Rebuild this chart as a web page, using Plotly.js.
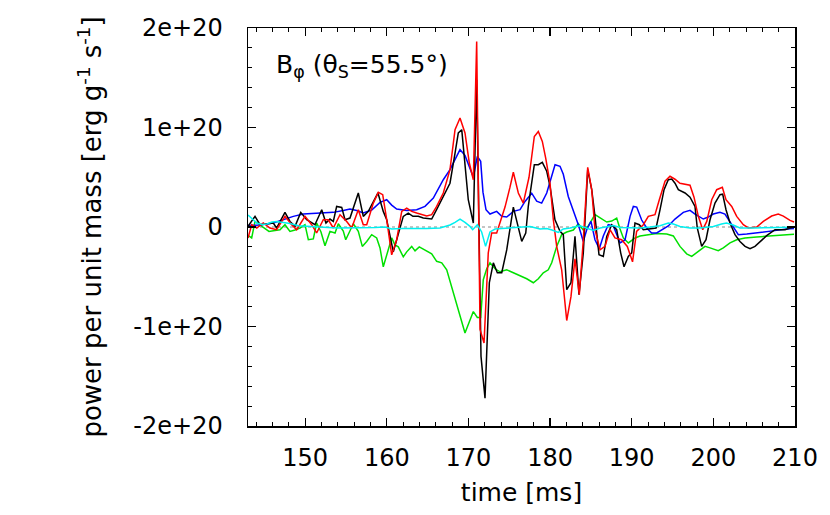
<!DOCTYPE html>
<html><head><meta charset="utf-8">
<script src="https://cdn.plot.ly/plotly-3.0.1.min.js"></script>
<style>html,body{margin:0;padding:0;background:#fff}</style>
</head><body><div id="chart" style="width:830px;height:515px"></div>
<script>
// values in units of 1e20 erg g^-1 s^-1
const UNIT = 1e20;
const timeBlack = [143.0,143.86,144.47,146.1,146.5,147.53,148.14,148.76,149.46,150.19,
 151.2,152.03,152.55,153.04,153.45,153.86,154.48,154.88,155.49,156.51,
 157.12,157.74,158.92,159.57,159.99,160.8,162.02,162.63,163.2,163.86,
 164.47,165.5,166.1,166.92,167.74,168.36,168.76,169.18,169.58,169.98,
 170.6,171.01,171.54,172.03,172.56,173.05,173.54,174.08,174.69,175.5,
 176.53,177.02,177.33,178.07,178.56,179.05,179.59,179.99,180.6,181.22,
 181.62,182.04,182.56,183.05,183.54,184.07,184.61,185.1,185.5,185.99,
 186.52,186.94,187.55,188.16,188.65,189.06,189.58,190.0,190.4,190.93,
 191.42,192.2,192.98,193.47,193.96,194.48,194.9,195.3,195.71,196.53,
 197.14,197.75,198.03,198.57,199.1,199.59,200.2,200.81,201.14,201.55,
 202.04,202.65,203.26,203.88,204.49,205.1,205.71,206.53,207.55,208.16,
 208.78,209.39,209.88];
const powerBlack = [0.006,0.107,0.023,0.04,-0.01,0.147,0.056,0.006,0.147,0.073,
 0.023,0.174,0.04,0.08,0.056,0.207,0.197,0.073,0.09,0.342,
 0.107,0.157,0.342,0.157,0.073,-0.25,0.107,0.14,0.107,0.107,
 0.09,0.08,0.174,0.307,0.44,0.743,0.945,0.978,0.609,0.274,
 0.04,1.48,-1.30,-1.72,-0.56,-0.36,-0.46,-0.46,-0.23,0.20,
 -0.145,-0.06,0.207,0.626,0.626,0.65,0.56,0.41,0.073,-0.044,
 -0.077,-0.63,-0.56,-0.094,-0.68,-0.26,0.576,0.375,0.107,-0.278,
 -0.295,-0.094,0.023,-0.027,-0.26,-0.40,-0.295,-0.26,0.04,0.023,
 -0.027,-0.02,-0.01,0.174,0.375,0.475,0.482,0.44,0.375,0.342,
 0.30,0.207,-0.01,-0.195,-0.128,0.073,0.24,0.325,0.33,0.174,
 0.04,-0.077,-0.145,-0.195,-0.218,-0.195,-0.145,-0.087,-0.027,-0.027,
 -0.027,-0.01,0.0];

const timeRed = [143.0,143.45,144.07,144.87,145.69,146.5,147.53,148.35,148.96,149.98,
 150.8,151.41,152.22,152.84,153.45,154.27,155.09,155.7,156.51,157.12,
 157.54,158.35,158.96,159.5,159.99,160.6,161.21,161.83,162.44,163.05,
 163.66,164.28,164.89,165.5,166.11,166.92,167.74,168.36,168.97,169.58,
 170.11,170.6,171.01,171.42,171.91,172.43,172.85,173.46,173.87,174.48,
 175.09,175.5,176.11,176.72,177.42,178.07,178.56,179.05,179.47,179.99,
 180.4,180.81,181.42,182.04,182.56,183.05,183.58,184.07,184.61,185.1,
 185.5,186.12,186.73,187.34,187.95,188.77,189.46,190.1,190.6,191.42,
 192.03,192.85,193.38,194.08,194.69,195.3,195.91,196.73,197.14,197.63,
 198.16,198.7,199.19,199.8,200.41,201.1,201.55,202.25,202.86,203.67,
 204.28,205.31,206.12,207.14,207.95,208.57,209.39,209.88];
const powerRed = [-0.11,0.023,-0.01,0.04,-0.01,-0.027,0.107,0.023,-0.027,0.107,
 0.023,-0.06,0.073,0.073,-0.01,0.124,0.056,-0.01,0.174,0.023,
 0.023,0.24,0.348,0.325,0.073,-0.28,-0.128,0.157,0.19,0.157,
 0.14,0.124,0.11,0.124,0.207,0.342,0.576,0.978,1.096,0.945,
 0.643,0.475,1.865,-1.03,-1.166,-0.26,-0.06,-0.06,0.04,0.2,
 0.4,0.55,0.342,0.24,0.5,0.91,0.96,0.86,0.69,0.44,
 0.073,-0.195,-0.43,-0.94,-0.70,-0.32,-0.68,-0.13,0.60,0.375,
 -0.027,-0.23,-0.195,-0.027,-0.11,-0.128,-0.195,-0.35,-0.044,0.023,
 0.107,0.124,0.274,0.46,0.51,0.48,0.44,0.43,0.42,0.30,
 0.107,-0.027,0.056,0.274,0.375,0.40,0.274,0.207,0.107,0.023,
 -0.01,0.0,0.056,0.11,0.13,0.11,0.066,0.05];

const timeBlue = [143.0,144.47,146.1,147.32,148.55,149.77,151.41,153.45,154.67,155.49,
 156.31,157.12,158.15,159.17,159.99,160.6,161.21,162.44,163.66,164.68,
 165.7,166.92,167.74,168.56,168.97,169.58,170.11,170.6,171.09,171.5,
 171.78,172.15,172.64,173.46,174.08,174.69,175.5,176.32,176.93,177.75,
 178.36,178.97,179.59,180.2,180.61,181.22,181.62,182.23,182.85,183.46,
 184.07,184.49,185.01,185.5,186.03,186.52,187.13,187.75,188.57,189.18,
 189.8,190.2,190.61,191.22,191.83,192.44,193.06,193.67,194.48,195.3,
 196.32,197.14,197.75,198.77,199.38,199.99,200.81,201.42,202.25,203.06,
 204.09,205.31,206.53,207.75,208.98,209.88];
const powerBlue = [0.016,0.02,0.04,0.073,0.107,0.13,0.14,0.147,0.165,0.18,
 0.165,0.14,0.17,0.247,0.274,0.22,0.18,0.167,0.174,0.207,
 0.29,0.475,0.576,0.71,0.777,0.72,0.61,0.50,0.71,0.66,
 0.35,0.174,0.13,0.157,0.107,0.10,0.157,0.174,0.257,0.34,
 0.26,0.24,0.342,0.526,0.626,0.61,0.53,0.307,0.16,0.023,
 -0.145,-0.027,0.056,-0.128,-0.218,-0.09,0.023,0.01,-0.16,-0.13,
 0.107,0.207,0.2,0.07,-0.01,-0.06,-0.06,-0.03,0.01,0.08,
 0.147,0.167,0.13,0.08,0.1,0.13,0.147,0.13,0.023,-0.077,
 -0.07,-0.06,-0.045,-0.034,-0.02,-0.014];

const timeGreen = [143.04,143.45,143.86,144.47,145.08,145.57,146.31,146.92,147.53,148.14,
 148.76,149.37,149.98,150.39,151.0,151.41,151.94,152.43,153.04,153.66,
 154.06,154.67,154.97,155.49,155.9,156.51,157.0,157.54,158.15,158.76,
 159.17,159.57,160.06,160.6,161.0,161.41,162.02,162.44,163.05,163.46,
 163.98,164.68,165.5,166.11,166.73,167.34,167.95,168.56,168.97,169.58,
 169.98,170.6,171.09,171.5,171.82,172.24,172.64,173.26,173.87,174.69,
 175.5,176.32,177.14,177.95,178.56,179.17,179.78,180.2,180.81,181.42,
 182.04,182.85,183.46,184.07,184.68,185.5,186.12,186.94,187.55,188.16,
 188.57,188.97,189.59,190.41,191.02,191.84,193.06,194.29,195.1,195.91,
 196.73,197.35,197.96,198.98,199.59,200.6,201.22,202.04,202.86,203.88,
 205.31,206.93,208.55,209.88];
const powerGreen = [-0.087,-0.11,0.056,0.02,-0.01,-0.044,-0.035,-0.027,0.023,-0.044,
 -0.03,-0.01,0.023,-0.128,-0.12,0.04,-0.05,-0.188,-0.044,-0.06,
 0.033,-0.04,-0.128,-0.044,0.033,-0.044,-0.195,-0.145,-0.077,-0.11,
 -0.21,-0.40,-0.25,-0.11,-0.18,-0.20,-0.30,-0.25,-0.195,-0.24,
 -0.20,-0.23,-0.27,-0.345,-0.36,-0.43,-0.6,-0.764,-0.9,-1.065,
 -0.98,-0.85,-0.91,-0.91,-0.53,-0.42,-0.36,-0.42,-0.45,-0.43,
 -0.46,-0.49,-0.52,-0.56,-0.52,-0.46,-0.43,-0.36,-0.195,-0.077,
 -0.05,-0.03,0.033,-0.03,0.01,0.124,0.09,0.05,0.06,0.09,
 -0.02,-0.11,-0.16,-0.11,-0.09,-0.077,-0.065,-0.07,-0.09,-0.195,
 -0.27,-0.295,-0.26,-0.195,-0.21,-0.238,-0.21,-0.16,-0.128,-0.11,
 -0.10,-0.087,-0.08,-0.074];

const timeCyan = [143.0,143.5,144.07,144.7,145.3,145.94,146.5,147.32,148.14,149.16,
 150.39,151.61,152.8,154.02,155.49,157.09,158.56,159.78,160.6,161.62,
 163.2,164.89,166.52,167.74,168.36,168.97,169.58,170.19,170.52,171.09,
 171.62,172.1,172.64,173.26,174.08,175.09,176.32,177.54,178.77,179.59,
 180.24,181.0,181.62,182.44,183.66,184.49,185.3,186.12,186.94,187.75,
 188.57,189.8,191.02,192.25,193.47,194.48,195.1,195.91,197.14,198.37,
 200.0,201.0,201.61,202.43,203.26,204.89,206.53,208.16,209.88];
const powerCyan = [0.12,0.08,0.04,0.025,0.03,0.05,0.056,0.045,0.035,0.013,
 0.005,0.0,-0.005,-0.01,-0.01,-0.005,-0.005,0.0,-0.02,-0.015,
 -0.017,-0.015,-0.01,0.02,0.047,0.08,0.047,0.006,-0.027,0.023,
 -0.05,-0.195,-0.05,-0.02,-0.015,-0.01,-0.005,0.006,-0.02,-0.015,
 -0.03,-0.054,-0.02,-0.01,0.013,-0.01,-0.034,-0.01,0.006,0.016,
 -0.004,-0.01,-0.01,0.0,0.013,0.04,0.03,0.006,-0.01,-0.01,
 0.006,0.03,0.04,0.02,-0.01,-0.01,-0.01,-0.005,-0.003];

const xTicks = [150,160,170,180,190,200,210];
const yTicks = [-2e20,-1e20,0,1e20,2e20];
const yTickText = ['-2e+20','-1e+20','0','1e+20','2e+20'];

const FONT = 'DejaVu Sans, Liberation Sans, sans-serif';
function mk(t, v, color){
  return {x:t, y:v.map(a=>a*UNIT), type:'scatter', mode:'lines',
          line:{color:color, width:1.5}, hoverinfo:'skip', showlegend:false};
}
const data = [
  mk(timeGreen, powerGreen, '#00e000'),
  mk(timeBlue, powerBlue, '#0000ff'),
  mk(timeBlack, powerBlack, '#000000'),
  mk(timeRed, powerRed, '#ff0000'),
  mk(timeCyan, powerCyan, '#00f0f0')
];
const axisCommon = {showline:true, linecolor:'#000', linewidth:1.5, mirror:'allticks',
  ticks:'inside', ticklen:8, tickwidth:1.2, tickcolor:'#000', showgrid:false, zeroline:false,
  tickfont:{family:FONT, size:24, color:'#000'}};
const layout = {
  width:830, height:515,
  margin:{l:248, r:35, t:28, b:89},
  paper_bgcolor:'#fff', plot_bgcolor:'#fff',
  font:{family:FONT, color:'#000'},
  xaxis: Object.assign({}, axisCommon, {
    range:[143,210], tickmode:'array', tickvals:xTicks,
    ticklabelstandoff:10,
    minor:{dtick:2, tick0:0, ticks:'inside', ticklen:4, tickcolor:'#000', tickwidth:1},
    title:{text:'time [ms]', font:{family:FONT, size:25, color:'#000'}, standoff:12}
  }),
  yaxis: Object.assign({}, axisCommon, {
    range:[-2e20,2e20], tickmode:'array', tickvals:yTicks, ticktext:yTickText,
    ticklabelstandoff:19,
    minor:{dtick:2e19, tick0:0, ticks:'inside', ticklen:4, tickcolor:'#000', tickwidth:1},
    title:{text:'power per unit mass [erg g<sup>-1</sup> s<sup>-1</sup>]', font:{family:FONT, size:26, color:'#000'}, standoff:24}
  }),
  shapes:[{type:'line', xref:'paper', x0:0, x1:1, yref:'y', y0:0, y1:0,
    line:{color:'#888', width:1, dash:'dot'}, layer:'below'}],
  annotations:[{xref:'paper', yref:'paper', x:0.048, y:0.905, xanchor:'left', yanchor:'middle',
    text:'B<sub>φ</sub> (θ<sub>S</sub>=55.5°)', showarrow:false,
    font:{family:FONT, size:25, color:'#000'}}]
};
Plotly.newPlot('chart', data, layout, {staticPlot:true, displayModeBar:false});
</script></body></html>
